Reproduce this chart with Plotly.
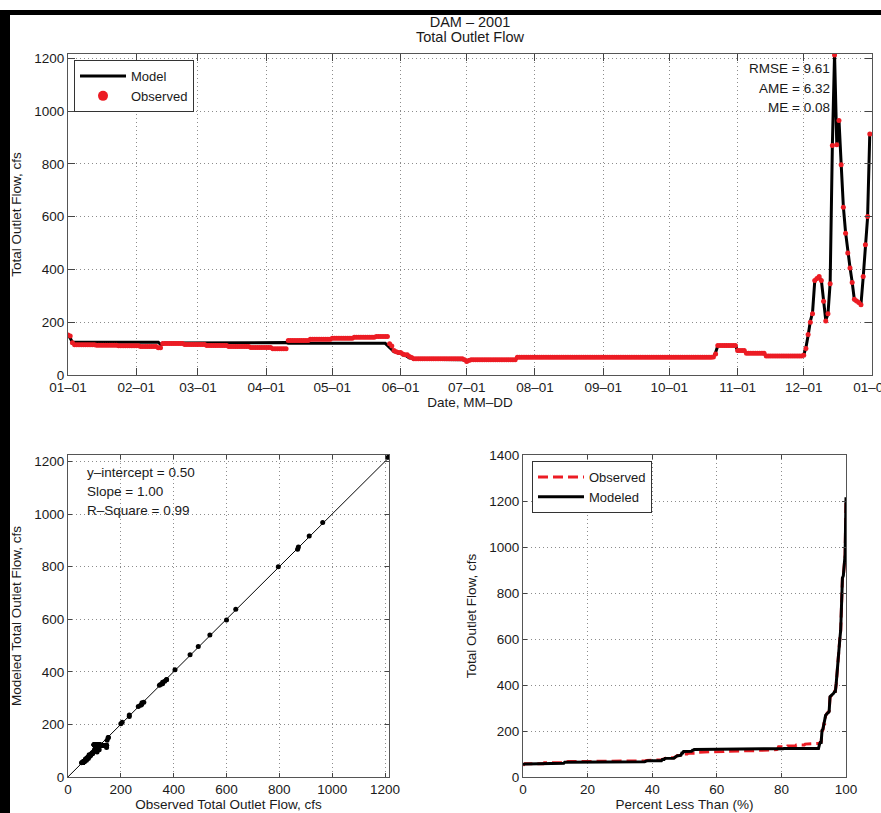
import numpy as np
import pandas as pd
import plotly.graph_objects as go

# ---------------------------------------------------------------------------
# Daily total outlet flow (cfs) for 2001.
# 1 Jan - 30 Nov is stored as runs: a flow level and the number of days it holds.
# December changes every day, so it is listed day by day.
# ---------------------------------------------------------------------------
obs_levels = [152, 148, 122, 115, 113, 111, 108, 103, 119, 116, 112, 108, 104, 99,
              131, 135, 139, 143, 146, 118, 110, 93, 88, 85, 80, 77, 70, 66, 62,
              58, 51, 55, 58, 67, 68, 80, 112, 93, 82, 72]
obs_days = [1, 1, 1, 10, 10, 10, 8, 2, 10, 10, 10, 10, 10, 7,
            10, 10, 10, 10, 6, 1, 1, 1, 1, 2, 1, 2, 1, 1, 23,
            1, 1, 1, 21, 89, 1, 1, 9, 4, 9, 17]
obs_dec = [75, 100, 153, 200, 232, 358, 366, 373, 358, 279, 205, 232, 346, 869, 1212,
           872, 964, 796, 635, 537, 462, 405, 350, 287, 280, 275, 266, 373, 493, 600, 913]

model_levels = [150, 140, 124, 116, 121, 123, 120, 112, 104, 95, 88, 82, 76, 70, 64,
                60, 58, 54, 57, 66, 68, 85, 111, 92, 81, 71]
model_days = [1, 1, 40, 2, 30, 26, 45, 1, 1, 1, 2, 2, 2, 1, 2,
              23, 1, 1, 22, 89, 1, 1, 9, 4, 9, 17]
model_dec = [76, 104, 150, 203, 236, 355, 364, 371, 360, 276, 208, 230, 349, 866, 1216,
             875, 968, 800, 638, 540, 465, 408, 352, 284, 282, 273, 268, 370, 496, 597, 917]

# Error statistics and regression of modeled on observed flow
rmse, ame, me = 9.61, 6.32, 0.08
fit_intercept, fit_slope, r_square = 0.50, 1.00, 0.99

year_start, year_end = "2001-01-01", "2002-01-01"

observed = np.concatenate([np.repeat(obs_levels, obs_days), obs_dec]).astype(float)
modeled = np.concatenate([np.repeat(model_levels, model_days), model_dec]).astype(float)
dates = pd.date_range(year_start, periods=len(observed), freq="D")

# Flow-duration curves: sorted flows against percent of days with lower flow
n = len(observed)
pct_less = np.arange(n) / (n - 1) * 100.0
obs_sorted = np.sort(observed)
mod_sorted = np.sort(modeled)

# ---------------------------------------------------------------------------
# Page geometry (pixels on an 881 x 813 page)
# ---------------------------------------------------------------------------
W, H = 881, 813
def fx(p):
    return p / W
def fy(p):
    return 1 - p / H

RED = "#ec1c24"
INK = "#1a1a1a"
FONT = "Liberation Sans, Arial, Helvetica, sans-serif"

fig = go.Figure()

# --- top: daily time series -------------------------------------------------
fig.add_trace(go.Scatter(x=dates, y=modeled, mode="lines", name="Model",
                         line=dict(color="black", width=3),
                         xaxis="x", yaxis="y", legend="legend"))
fig.add_trace(go.Scatter(x=dates, y=observed, mode="markers", name="Observed",
                         marker=dict(color=RED, size=5, line=dict(width=0)),
                         xaxis="x", yaxis="y", showlegend=False))
fig.add_trace(go.Scatter(x=[None], y=[None], mode="markers", name="Observed",
                         marker=dict(color=RED, size=10),
                         xaxis="x", yaxis="y", legend="legend"))

# --- bottom left: modeled vs observed ---------------------------------------
x_fit = np.array([0.0, 1215.0])
fig.add_trace(go.Scatter(x=x_fit, y=fit_intercept + fit_slope * x_fit, mode="lines",
                         line=dict(color="black", width=1), showlegend=False,
                         xaxis="x2", yaxis="y2"))
fig.add_trace(go.Scatter(x=observed, y=modeled, mode="markers",
                         marker=dict(color="black", size=5), showlegend=False,
                         xaxis="x2", yaxis="y2"))

# --- bottom right: flow-duration curves --------------------------------------
fig.add_trace(go.Scatter(x=pct_less, y=obs_sorted, mode="lines", name="Observed",
                         line=dict(color=RED, width=3, dash="10px,5px"),
                         xaxis="x3", yaxis="y3", legend="legend2"))
fig.add_trace(go.Scatter(x=pct_less, y=mod_sorted, mode="lines", name="Modeled",
                         line=dict(color="black", width=3),
                         xaxis="x3", yaxis="y3", legend="legend2"))

axis_common = dict(showline=True, linecolor="#555555", linewidth=1, mirror="ticks",
                   ticks="inside", tickcolor="#444444", showgrid=True,
                   gridcolor="#8c8c8c", griddash="1px,3px", gridwidth=1, zeroline=False,
                   automargin=False,
                   tickfont=dict(size=13.5, color=INK, family=FONT),
                   title_font=dict(size=13.5, color=INK, family=FONT))

def xtitle(text):
    return dict(text=text, standoff=0)

def ytitle(text):
    return dict(text=text, standoff=9)

legend_common = dict(xanchor="left", yanchor="top", bgcolor="white",
                     bordercolor="#333333", borderwidth=1,
                     font=dict(size=13, color=INK), itemwidth=46, tracegroupgap=0)

fig.update_layout(
    template="none",
    width=W, height=H, autosize=False,
    margin=dict(l=0, r=0, t=0, b=0, autoexpand=False),
    paper_bgcolor="white", plot_bgcolor="white",
    font=dict(family=FONT, size=13.5, color=INK),
    title=dict(text="DAM – 2001", x=fx(470), xanchor="center", y=fy(22), yanchor="middle",
               font=dict(size=14.5, color=INK, family=FONT)),
    xaxis=dict(axis_common, domain=[fx(68), fx(872)], anchor="y", type="date",
               range=[year_start, year_end], tick0=year_start, dtick="M1",
               tickformat="%m–%d", ticklen=7, ticklabeloverflow="allow",
               title=xtitle("Date, MM–DD")),
    yaxis=dict(axis_common, domain=[fy(375), fy(54)], anchor="x",
               range=[0, max(observed.max(), modeled.max())], dtick=200, ticklen=7,
               title=ytitle("Total Outlet Flow, cfs")),
    xaxis2=dict(axis_common, domain=[fx(68), fx(389)], anchor="y2", range=[0, 1215],
                dtick=200, ticklen=4, title=xtitle("Observed Total Outlet Flow, cfs")),
    yaxis2=dict(axis_common, domain=[fy(777), fy(455)], anchor="x2", range=[0, 1225],
                dtick=200, ticklen=4, title=ytitle("Modeled Total Outlet Flow, cfs")),
    xaxis3=dict(axis_common, domain=[fx(523), fx(846)], anchor="y3", range=[0, 100],
                dtick=20, ticklen=4, title=xtitle("Percent Less Than (%)")),
    yaxis3=dict(axis_common, domain=[fy(777), fy(455)], anchor="x3", range=[0, 1400],
                dtick=200, ticklen=4, title=ytitle("Total Outlet Flow, cfs")),
    legend=dict(legend_common, x=fx(74), y=fy(60)),
    legend2=dict(legend_common, x=fx(532), y=fy(461)),
)

# Second title line
fig.add_annotation(text="Total Outlet Flow", xref="paper", yref="paper",
                   x=fx(470), y=fy(37), xanchor="center", yanchor="middle",
                   showarrow=False, font=dict(size=14.5, color=INK))

# Error statistics on the time-series panel
for i, txt in enumerate([f"RMSE = {rmse:.2f}", f"AME = {ame:.2f}", f"ME = {me:.2f}"]):
    fig.add_annotation(text=txt, xref="paper", yref="paper", x=fx(832), y=fy(69 + 19.5 * i),
                       xanchor="right", yanchor="middle", showarrow=False,
                       font=dict(size=13.5, color=INK))

# Regression statistics on the scatter panel
for i, txt in enumerate([f"y–intercept = {fit_intercept:.2f}", f"Slope = {fit_slope:.2f}",
                         f"R–Square = {r_square:.2f}"]):
    fig.add_annotation(text=txt, xref="paper", yref="paper", x=fx(85), y=fy(472 + 19.2 * i),
                       xanchor="left", yanchor="middle", showarrow=False,
                       font=dict(size=13.5, color=INK))

# Heavy page frame along the left and top edges
fig.add_shape(type="rect", xref="paper", yref="paper", x0=0, x1=fx(10), y0=0, y1=fy(10),
              fillcolor="black", line=dict(width=0), layer="above")
fig.add_shape(type="rect", xref="paper", yref="paper", x0=fx(5), x1=1, y0=fy(15), y1=fy(10),
              fillcolor="black", line=dict(width=0), layer="above")

fig.write_html("out.html")
